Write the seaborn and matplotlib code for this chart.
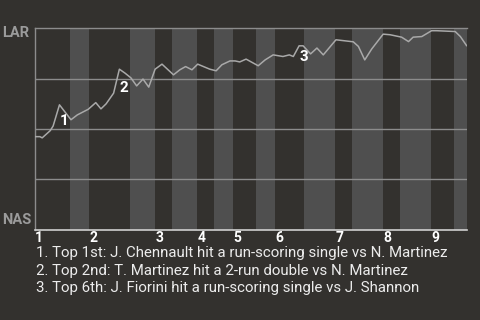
import matplotlib
matplotlib.use("Agg")
import matplotlib.pyplot as plt
import matplotlib.transforms as mtransforms
import seaborn as sns
import pandas as pd

# ---- data ----
play_idx = [0.0, 0.9, 1.3, 2.7, 3.2, 4.3, 6.3, 7.4, 9.3, 10.6, 11.5, 12.4, 13.7, 14.7,
            15.7, 16.7, 17.7, 18.8, 19.8, 20.9, 22.1, 24.1, 25.2, 26.2, 27.3, 28.3,
            29.3, 30.4, 31.5, 32.5, 33.9, 34.8, 35.6, 36.7, 38.8, 40.0, 41.4, 43.1,
            44.2, 44.9, 45.9, 46.6, 47.9, 49.0, 50.1, 52.3, 55.3, 56.2, 57.3, 58.5,
            60.5, 61.7, 63.7, 64.9, 65.7, 67.2, 68.9, 69.8, 73.0, 73.9, 75.0]
lar_win_pct = [46.2, 46.2, 45.6, 49.2, 51.5, 62.0, 54.6, 57.0, 59.8, 63.1, 60.0, 62.5,
               67.8, 79.7, 77.7, 75.4, 71.4, 74.8, 70.8, 79.7, 82.2, 76.9, 79.4, 81.0,
               79.4, 82.2, 81.0, 79.7, 78.9, 81.9, 83.8, 83.8, 83.3, 84.7, 81.4, 84.3,
               86.8, 86.0, 86.8, 86.0, 91.3, 91.3, 87.3, 90.2, 86.8, 94.3, 93.3, 91.0,
               84.3, 89.7, 97.1, 96.8, 95.6, 93.4, 95.6, 95.9, 98.8, 98.8, 98.4, 95.9,
               91.3]
# half-inning boundaries (in play index units)
half_inning_starts = [0.0, 6.1, 9.4, 16.5, 20.9, 23.8, 28.2, 31.1, 34.4, 38.4, 41.7,
                      46.8, 52.1, 55.1, 60.5, 63.4, 68.8, 72.8]
game_end = 75.0
inning_labels = ["1", "2", "3", "4", "5", "6", "7", "8", "9"]
team_top = "LAR"
team_bottom = "NAS"
note_ids = ["1", "2", "3"]
note_play = [4.3, 14.7, 45.9]
note_wp = [53.8, 70.4, 85.6]
notes = [
    "1. Top 1st: J. Chennault hit a run-scoring single vs N. Martinez",
    "2. Top 2nd: T. Martinez hit a 2-run double vs N. Martinez",
    "3. Top 6th: J. Fiorini hit a run-scoring single vs J. Shannon",
]

# ---- style ----
BG = "#33312e"
BAND = "#4f4f4f"
LINE = "#a9a9a9"
GRID = "#8c8c8c"

sns.set_theme(style="dark")
plt.rcParams["font.family"] = ["Roboto", "DejaVu Sans"]

fig = plt.figure(figsize=(4.8, 3.2), dpi=100, facecolor=BG)
ax = fig.add_axes([34.7 / 480, 1 - 229.7 / 320, 432 / 480, (229.7 - 28.3) / 320])
ax.set_facecolor(BG)

# alternating half-inning bands (bottom halves shaded)
bounds = half_inning_starts + [game_end]
for i in range(len(half_inning_starts)):
    if i % 2 == 1:
        ax.axvspan(bounds[i], bounds[i + 1], color=BAND, lw=0, zorder=0)

for g in [25, 50, 75]:
    ax.axhline(g, color=GRID, lw=1.0, zorder=1)

df = pd.DataFrame({"play": play_idx, "wp": lar_win_pct})
sns.lineplot(data=df, x="play", y="wp", ax=ax, color=LINE, lw=1.1, zorder=3,
             estimator=None, sort=False)

for nid, px, wy in zip(note_ids, note_play, note_wp):
    ax.text(px, wy, nid, color="white", fontsize=11, fontweight="bold",
            ha="left", va="center", zorder=4)

ax.set_xlim(0, game_end)
ax.set_ylim(0, 100)
ax.set_xticks([])
ax.set_yticks([])
ax.set_xlabel("")
ax.set_ylabel("")
ax.grid(False)

for side in ["left", "top"]:
    ax.spines[side].set_visible(True)
    ax.spines[side].set_color(GRID)
    ax.spines[side].set_linewidth(1.0)
ax.spines["bottom"].set_visible(True)
ax.spines["bottom"].set_color("#d0d0d0")
ax.spines["bottom"].set_linewidth(1.2)
ax.spines["right"].set_visible(False)

# team labels
ax.text(-0.075, 0.975, team_top, transform=ax.transAxes, color="#9b9b9b",
        fontsize=10.5, fontweight="bold", ha="left", va="center")
ax.text(-0.075, 0.05, team_bottom, transform=ax.transAxes, color="#9b9b9b",
        fontsize=10.5, fontweight="bold", ha="left", va="center")

# inning labels below axis
trans = mtransforms.blended_transform_factory(ax.transData, ax.transAxes)
for k, lab in enumerate(inning_labels):
    ax.text(half_inning_starts[2 * k] + 0.1, -0.04, lab, transform=trans,
            color="white", fontsize=10, fontweight="bold", ha="left", va="center")

# play notes
for j, t in enumerate(notes):
    fig.text(36 / 480, 1 - (253 + j * 17.7) / 320, t, color="#ececec",
             fontsize=10.8, ha="left", va="center")

fig.savefig("out.png", dpi=100, facecolor=BG)
